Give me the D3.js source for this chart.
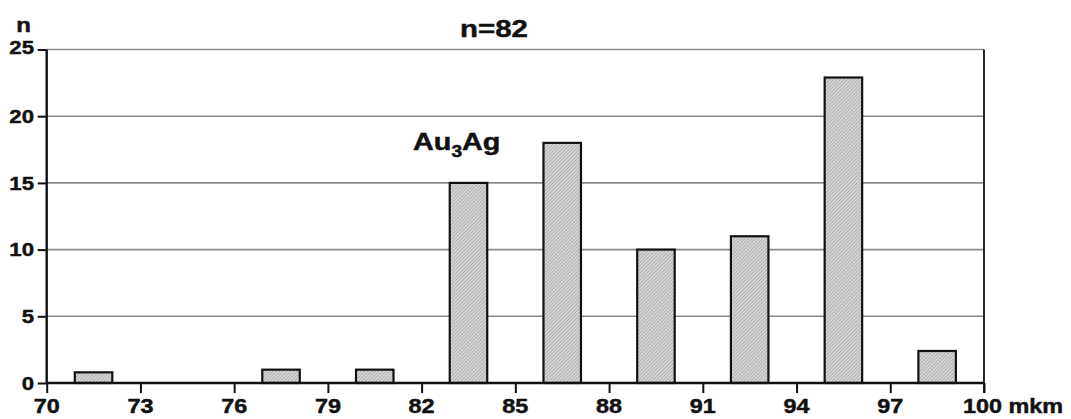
<!DOCTYPE html>
<html>
<head>
<meta charset="utf-8">
<script src="https://cdn.jsdelivr.net/npm/d3@7"></script>
<style>
  html, body { margin: 0; padding: 0; background: #fff; }
  svg { display: block; }
  text { font-family: "Liberation Sans", Arial, sans-serif; font-weight: bold; fill: #111; stroke: #111; stroke-width: 0.45px; }
</style>
</head>
<body>
<svg id="chart" width="1071" height="419"></svg>
<script>
// ---- data ----
const binCenters = [71.5, 74.5, 77.5, 80.5, 83.5, 86.5, 89.5, 92.5, 95.5, 98.5];
const counts     = [0.8, 0, 1, 1, 15, 18, 10, 11, 22.9, 2.4];
const xTicks = [70, 73, 76, 79, 82, 85, 88, 91, 94, 97, 100];
const yTicks = [0, 5, 10, 15, 20, 25];
const barWidthUnits = 1.2;
const titleText = "n=82";
const yAxisLabel = "n";
const xUnitLabel = "mkm";

(function () {
// ---- layout ----
const svg = d3.select("#chart");
const pLeft = 46.7, pRight = 984, pTop = 49.5, pBottom = 383;
const x = d3.scaleLinear().domain([70, 100]).range([pLeft, pRight]);
const y = d3.scaleLinear().domain([0, 25]).range([pBottom, pTop]);
const SX = 1.2; // horizontal stretch of the lettering

// hatch pattern
const defs = svg.append("defs");
const pat = defs.append("pattern").attr("id", "hatch")
  .attr("patternUnits", "userSpaceOnUse").attr("width", 2.5).attr("height", 2.5)
  .attr("patternTransform", "rotate(45)");
pat.append("rect").attr("width", 2.5).attr("height", 2.5).attr("fill", "#d8d8d8");
pat.append("rect").attr("width", 0.9).attr("height", 2.5).attr("fill", "#ababab");

function stretchedText(g, tx, ty, str, size, anchor) {
  return g.append("text")
    .attr("transform", `translate(${tx},${ty}) scale(${SX},1)`)
    .attr("text-anchor", anchor)
    .attr("font-size", size)
    .text(str);
}

// grid lines
svg.append("g").selectAll("line").data(yTicks.filter(d => d > 0)).join("line")
  .attr("x1", pLeft).attr("x2", pRight)
  .attr("y1", d => y(d)).attr("y2", d => y(d))
  .attr("stroke", "#8a8a8a").attr("stroke-width", 1.6);

// bars
const bars = binCenters.map((c, i) => ({ c, v: counts[i] })).filter(d => d.v > 0);
svg.append("g").selectAll("rect").data(bars).join("rect")
  .attr("x", d => x(d.c - barWidthUnits / 2))
  .attr("width", d => x(d.c + barWidthUnits / 2) - x(d.c - barWidthUnits / 2))
  .attr("y", d => y(d.v))
  .attr("height", d => y(0) - y(d.v))
  .attr("fill", "url(#hatch)")
  .attr("stroke", "#111").attr("stroke-width", 2.2);

// x axis
const xAxis = svg.append("g").attr("transform", `translate(0,${pBottom})`)
  .call(d3.axisBottom(x).tickValues(xTicks).tickSize(10).tickFormat(""));
xAxis.select(".domain").attr("stroke", "#111").attr("stroke-width", 2.4)
  .attr("d", `M${pLeft},0H${pRight}`);
xAxis.selectAll(".tick line").attr("stroke", "#111").attr("stroke-width", 2);
xTicks.forEach(t => {
  const lbl = t === 100 ? `${t} ${xUnitLabel}` : `${t}`;
  if (t === 100) stretchedText(svg, x(t) - 17.5 * SX, 413, lbl, 19.5, "start");
  else stretchedText(svg, x(t), 413, lbl, 19.5, "middle");
});

// y axis
const yAxis = svg.append("g").attr("transform", `translate(${pLeft},0)`)
  .call(d3.axisLeft(y).tickValues(yTicks).tickSize(9).tickFormat(""));
yAxis.select(".domain").attr("stroke", "#111").attr("stroke-width", 2.4)
  .attr("d", `M0,${pTop}V${pBottom}`);
yAxis.selectAll(".tick line").attr("stroke", "#111").attr("stroke-width", 2);
yTicks.forEach(t => {
  stretchedText(svg, 34, y(t) + 6.8 - (t === 25 ? 2 : 0), `${t}`, 18.5, "end");
});

// right border
svg.append("line").attr("x1", pRight).attr("x2", pRight)
  .attr("y1", y(25)).attr("y2", pBottom + 10)
  .attr("stroke", "#111").attr("stroke-width", 1.8);

// labels
stretchedText(svg, 23.5, 32, yAxisLabel, 20, "middle");
stretchedText(svg, 494, 37, titleText, 24.5, "middle");

// annotation Au3Ag
const ann = svg.append("text")
  .attr("transform", `translate(413,149.5) scale(${SX},1)`)
  .attr("font-size", 24).attr("text-anchor", "start");
ann.append("tspan").text("Au");
ann.append("tspan").attr("font-size", 16).attr("dy", 7).text("3");
ann.append("tspan").attr("dy", -7).text("Ag");
})();
</script>
</body>
</html>
